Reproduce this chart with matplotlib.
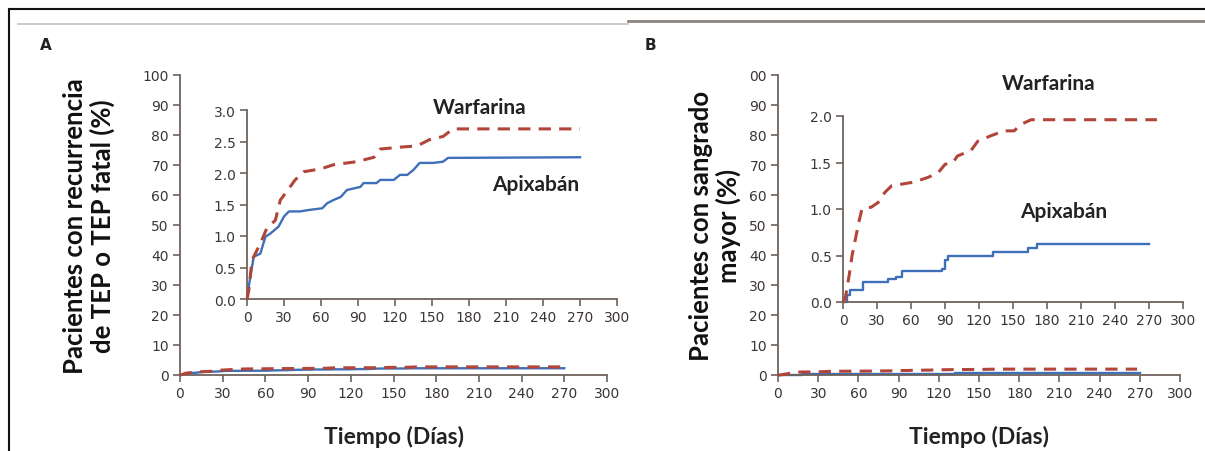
import matplotlib
matplotlib.use('Agg')
import matplotlib.pyplot as plt
from matplotlib import font_manager
from matplotlib.lines import Line2D

# --- data (days, % of patients) ---
days_a_warf = [0, 1.4, 4, 5.4, 10.8, 16, 23, 27, 32, 39, 46, 55, 62, 70, 89, 103, 108, 124, 138, 148, 159, 167, 270]
pct_a_warf = [0, 0.13, 0.61, 0.67, 0.88, 1.12, 1.25, 1.57, 1.70, 1.89, 2.02, 2.05, 2.08, 2.13, 2.18, 2.25, 2.38, 2.41, 2.43, 2.53, 2.58, 2.70, 2.70]
days_a_apix = [0, 1.4, 4, 5.4, 10.8, 15, 19, 25.6, 30, 34, 43, 49, 61, 65, 70, 76, 81, 92, 94.5, 105, 108, 119, 124, 130, 135, 140, 151, 159, 163, 270]
pct_a_apix = [0, 0.2, 0.5, 0.67, 0.72, 0.99, 1.04, 1.15, 1.31, 1.39, 1.39, 1.41, 1.44, 1.52, 1.57, 1.62, 1.73, 1.78, 1.84, 1.84, 1.89, 1.89, 1.97, 1.97, 2.05, 2.16, 2.16, 2.18, 2.24, 2.25]

days_b_warf = [0, 2, 5.5, 8, 11, 14, 16.7, 25, 31, 37, 43, 63, 75, 84, 90, 97, 101, 113, 119, 131, 142, 151, 157, 166, 277]
pct_b_warf = [0, 0.04, 0.29, 0.5, 0.68, 0.86, 1.0, 1.02, 1.07, 1.18, 1.25, 1.29, 1.34, 1.39, 1.48, 1.5, 1.57, 1.63, 1.73, 1.79, 1.84, 1.84, 1.91, 1.96, 1.96]
days_b_apix = [0, 3.5, 6.4, 18, 40, 47, 52, 87, 90, 93, 132, 163, 171.5, 270]
pct_b_apix = [0, 0.07, 0.125, 0.21, 0.25, 0.27, 0.33, 0.36, 0.45, 0.49, 0.54, 0.58, 0.625, 0.625]

x_ticks = [0, 30, 60, 90, 120, 150, 180, 210, 240, 270, 300]
main_yticks = [0, 10, 20, 30, 40, 50, 60, 70, 80, 90, 100]
main_ylabels_a = ['0', '10', '20', '30', '40', '50', '60', '70', '80', '90', '100']
main_ylabels_b = ['0', '10', '20', '30', '40', '50', '60', '70', '80', '90', '00']
inset_yticks_a = [0.0, 0.5, 1.0, 1.5, 2.0, 2.5, 3.0]
inset_yticks_b = [0.0, 0.5, 1.0, 1.5, 2.0]

ylabel_a = 'Pacientes con recurrencia\nde TEP o TEP fatal (%)'
ylabel_b = 'Pacientes con sangrado\nmayor (%)'
xlabel = 'Tiempo (Días)'

RED = '#b2453a'
BLUE = '#3f6fb8'
AXC = '#6e625c'
TXT = '#3b3533'

names = {f.name for f in font_manager.fontManager.ttflist}
tick_font = 'Liberation Sans Narrow' if 'Liberation Sans Narrow' in names else 'DejaVu Sans'
label_font = 'Lato' if 'Lato' in names else 'DejaVu Sans'

W, H = 1205, 452
fig = plt.figure(figsize=(W / 100, H / 100), dpi=100)


def px_axes(x0, x1, ytop, ybot):
    return fig.add_axes([x0 / W, 1 - ybot / H, (x1 - x0) / W, (ybot - ytop) / H])


def style(ax, yticks, ylabels, ymax, fs):
    ax.set_xlim(0, 300)
    ax.set_ylim(0, ymax)
    ax.set_xticks(x_ticks)
    ax.set_yticks(yticks)
    ax.set_yticklabels(ylabels)
    for s in ['top', 'right']:
        ax.spines[s].set_visible(False)
    for s in ['left', 'bottom']:
        ax.spines[s].set_color(AXC)
        ax.spines[s].set_linewidth(1.3)
    ax.tick_params(direction='out', length=5, width=1.2, color=AXC,
                   labelsize=fs, labelcolor=TXT, pad=3)
    for lab in ax.get_xticklabels() + ax.get_yticklabels():
        lab.set_fontfamily(tick_font)
    ax.patch.set_alpha(0)


def draw(ax, dw, pw, da, pa, step_apix=False):
    ax.plot(dw, pw, color=RED, lw=2.2, dashes=(4, 2.7), clip_on=False, zorder=3)
    if step_apix:
        ax.step(da, pa, where='post', color=BLUE, lw=1.7, clip_on=False, zorder=2)
    else:
        ax.plot(da, pa, color=BLUE, lw=1.7, clip_on=False, zorder=2)


def bold_text(ax, x, y, s):
    ax.text(x, y, s, transform=ax.transAxes, fontsize=15, fontweight='bold',
            family=label_font, color='#222222', ha='center', va='center')


# panel A
ax_a = px_axes(180, 607, 76, 376)
style(ax_a, main_yticks, main_ylabels_a, 100, 10)
draw(ax_a, days_a_warf, pct_a_warf, days_a_apix, pct_a_apix)
ax_a.set_xlabel(xlabel, fontsize=16.5, fontweight='bold', family=label_font,
                color='#222222', labelpad=18)
ax_a.set_ylabel(ylabel_a, fontsize=18.5, fontweight='bold', family=label_font,
                color='#111111', labelpad=20, linespacing=1.1)

in_a = px_axes(247, 617, 111, 300)
style(in_a, inset_yticks_a, ['%.1f' % v for v in inset_yticks_a], 3.0, 10)
draw(in_a, days_a_warf, pct_a_warf, days_a_apix, pct_a_apix)
bold_text(in_a, 0.63, 1.015, 'Warfarina')
bold_text(in_a, 0.78, 0.61, 'Apixabán')

# panel B
ax_b = px_axes(778, 1180, 76, 376)
style(ax_b, main_yticks, main_ylabels_b, 100, 10)
draw(ax_b, days_b_warf[:-1] + [268], pct_b_warf, days_b_apix, pct_b_apix, True)
ax_b.set_xlabel(xlabel, fontsize=16.5, fontweight='bold', family=label_font,
                color='#222222', labelpad=18)
ax_b.set_ylabel(ylabel_b, fontsize=18.5, fontweight='bold', family=label_font,
                color='#111111', labelpad=6, linespacing=1.1)

in_b = px_axes(843, 1183, 117, 303)
style(in_b, inset_yticks_b, ['%.1f' % v for v in inset_yticks_b], 2.0, 10)
draw(in_b, days_b_warf, pct_b_warf, days_b_apix, pct_b_apix, True)
bold_text(in_b, 0.605, 1.18, 'Warfarina')
bold_text(in_b, 0.65, 0.49, 'Apixabán')

# panel letters and frame lines
fig.text(40 / W, 1 - 45 / H, 'A', fontsize=11, fontweight='bold', color='#222222', va='center')
fig.text(645 / W, 1 - 45 / H, 'B', fontsize=11, fontweight='bold', color='#222222', va='center')

fr = fig.transFigure
fig.add_artist(Line2D([9 / W, 1], [1 - 10 / H, 1 - 10 / H], color='#111111', lw=1.5, transform=fr))
fig.add_artist(Line2D([9 / W, 9 / W], [0, 1 - 10 / H], color='#111111', lw=1.5, transform=fr))
fig.add_artist(Line2D([18 / W, 628 / W], [1 - 25 / H, 1 - 25 / H], color='#c9beb8', lw=1.2, transform=fr))
fig.add_artist(Line2D([628 / W, 1], [1 - 22 / H, 1 - 22 / H], color='#8a8480', lw=2, transform=fr))

fig.savefig('out.png', dpi=100)
